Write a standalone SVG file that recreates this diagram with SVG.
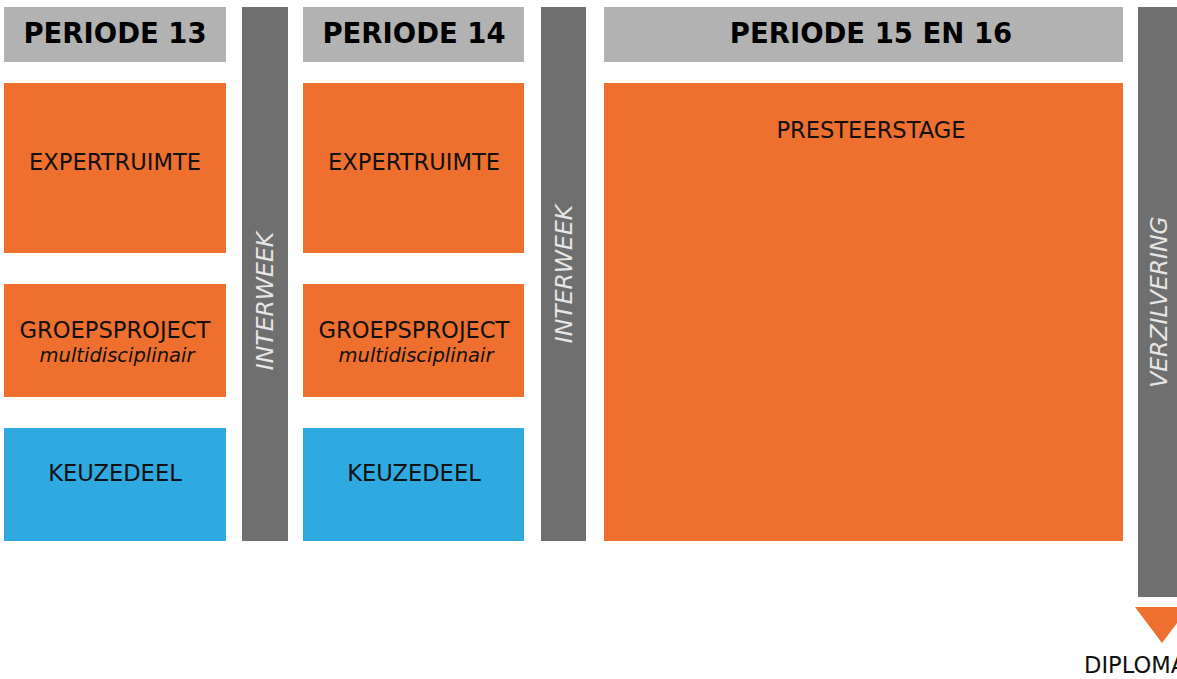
<svg xmlns="http://www.w3.org/2000/svg" width="1177" height="679" viewBox="0 0 1177 679">
<style>
.hdr{fill:#b2b2b2}
.org{fill:#ef6f2e}
.blu{fill:#2eaae1}
.bar{fill:#6f6f6f}
.ht{font-family:"DejaVu Sans",sans-serif;font-weight:bold;font-size:27.5px;fill:#000;text-anchor:middle}
.bt{font-family:"DejaVu Sans",sans-serif;font-size:22.6px;fill:#111;text-anchor:middle}
.it{font-family:"DejaVu Sans",sans-serif;font-style:italic;font-size:19.5px;fill:#111;text-anchor:middle}
.vt{font-family:"DejaVu Sans",sans-serif;font-style:italic;font-size:23.5px;fill:#e6e6e6;text-anchor:middle}
</style>
<rect width="1177" height="679" fill="#fff"/>
<g id="p13">
<rect class="hdr" x="4" y="7" width="222" height="55"/>
<text class="ht" x="115" y="43">PERIODE 13</text>
</g>
<g id="exp13">
<rect class="org" x="4" y="83" width="222" height="170"/>
<text class="bt" x="115" y="170">EXPERTRUIMTE</text>
</g>
<g id="gp13">
<rect class="org" x="4" y="284" width="222" height="113"/>
<text class="bt" x="115" y="338">GROEPSPROJECT</text>
<text class="it" x="117" y="362">multidisciplinair</text>
</g>
<g id="kd13">
<rect class="blu" x="4" y="428" width="222" height="113"/>
<text class="bt" x="115" y="481">KEUZEDEEL</text>
</g>
<g id="iw1">
<rect class="bar" x="242" y="7" width="46" height="534"/>
<text class="vt" transform="translate(273,301) rotate(-90)">INTERWEEK</text>
</g>
<g id="p14">
<rect class="hdr" x="303" y="7" width="221" height="55"/>
<text class="ht" x="414" y="43">PERIODE 14</text>
</g>
<g id="exp14">
<rect class="org" x="303" y="83" width="221" height="170"/>
<text class="bt" x="414" y="170">EXPERTRUIMTE</text>
</g>
<g id="gp14">
<rect class="org" x="303" y="284" width="221" height="113"/>
<text class="bt" x="414" y="338">GROEPSPROJECT</text>
<text class="it" x="416" y="362">multidisciplinair</text>
</g>
<g id="kd14">
<rect class="blu" x="303" y="428" width="221" height="113"/>
<text class="bt" x="414" y="481">KEUZEDEEL</text>
</g>
<g id="iw2">
<rect class="bar" x="541" y="7" width="45" height="534"/>
<text class="vt" transform="translate(572,274) rotate(-90)">INTERWEEK</text>
</g>
<g id="p1516">
<rect class="hdr" x="604" y="7" width="519" height="55"/>
<text class="ht" x="871" y="43">PERIODE 15 EN 16</text>
</g>
<g id="stage">
<rect class="org" x="604" y="83" width="519" height="458"/>
<text class="bt" x="871" y="138">PRESTEERSTAGE</text>
</g>
<g id="verz">
<rect class="bar" x="1138" y="7" width="46" height="590"/>
<text class="vt" transform="translate(1167,302) rotate(-90)">VERZILVERING</text>
</g>
<g id="diploma">
<polygon class="org" points="1135,607 1189,607 1162,643"/>
<text class="bt" style="text-anchor:start" x="1084" y="673">DIPLOMA</text>
</g>
</svg>
